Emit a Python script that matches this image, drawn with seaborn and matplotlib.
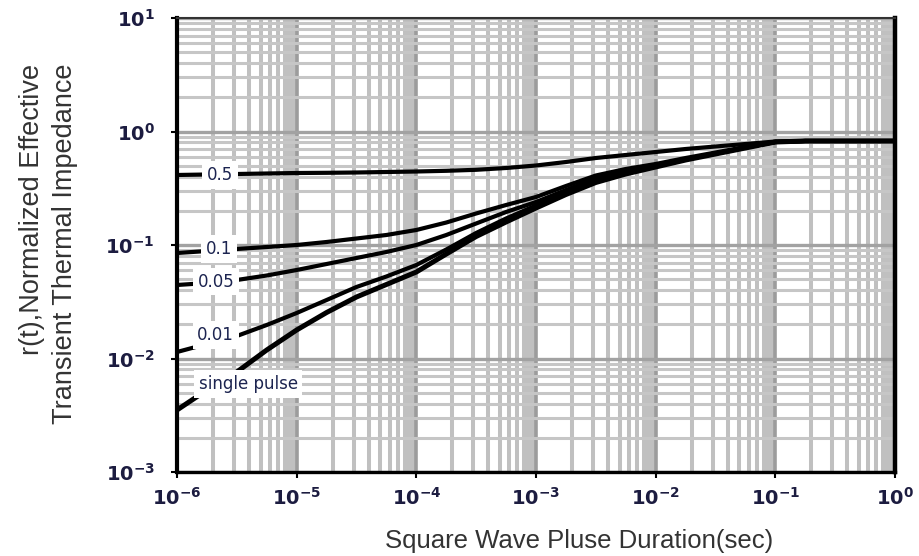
import numpy as np
import pandas as pd
import matplotlib
matplotlib.use("Agg")
import matplotlib.pyplot as plt
import seaborn as sns
from matplotlib.ticker import LogLocator, NullFormatter

# ---------------- data ----------------
pulse_duration = [1e-6, 1.78e-6, 3.16e-6, 5.62e-6,
                  1e-5, 1.78e-5, 3.16e-5, 5.62e-5,
                  1e-4, 1.78e-4, 3.16e-4, 5.62e-4,
                  1e-3, 1.78e-3, 3.16e-3, 5.62e-3,
                  1e-2, 1.78e-2, 3.16e-2, 5.62e-2,
                  1e-1, 1.78e-1, 3.16e-1, 5.62e-1, 1.0]

r_d05 = [0.4138, 0.4180, 0.4223, 0.4266, 0.4309, 0.4326, 0.4353, 0.4397,
         0.4442, 0.4505, 0.4598, 0.4769, 0.5017, 0.5386, 0.5841, 0.6208,
         0.6597, 0.7012, 0.7376, 0.7760, 0.8164, 0.8247, 0.8247, 0.8247, 0.8247]
r_d01 = [0.0850, 0.0885, 0.0922, 0.0960, 0.1000, 0.1063, 0.1141, 0.1225,
         0.1356, 0.1578, 0.1895, 0.2251, 0.2648, 0.3310, 0.4096, 0.4673,
         0.5172, 0.5841, 0.6531, 0.7302, 0.8081, 0.8247, 0.8247, 0.8247, 0.8247]
r_d005 = [0.04442, 0.04626, 0.04916, 0.05386, 0.06022, 0.06801, 0.07682, 0.08676,
          0.1000, 0.1225, 0.1547, 0.1953, 0.2392, 0.3052, 0.3854, 0.4487,
          0.5017, 0.5666, 0.6400, 0.7228, 0.8081, 0.8247, 0.8247, 0.8247, 0.8247]
r_d001 = [0.01141, 0.01342, 0.01578, 0.01973, 0.02517, 0.03277, 0.04265, 0.05278,
          0.06665, 0.09127, 0.1276, 0.1712, 0.2229, 0.2901, 0.3701, 0.4309,
          0.4916, 0.5666, 0.6400, 0.7228, 0.8081, 0.8247, 0.8247, 0.8247, 0.8247]
r_single = [0.003518, 0.005278, 0.007604, 0.01188, 0.01783, 0.02543, 0.03482, 0.04487,
            0.05782, 0.08331, 0.1188, 0.1595, 0.2118, 0.2786, 0.3554, 0.4223,
            0.4867, 0.5609, 0.6335, 0.7155, 0.8081, 0.8247, 0.8247, 0.8247, 0.8247]

series_names = ["0.5", "0.1", "0.05", "0.01", "single pulse"]
series_values = [r_d05, r_d01, r_d005, r_d001, r_single]

x_ticks = [1e-6, 1e-5, 1e-4, 1e-3, 1e-2, 1e-1, 1e0]
x_tick_labels = [r"$\mathbf{10^{-6}}$", r"$\mathbf{10^{-5}}$", r"$\mathbf{10^{-4}}$",
                 r"$\mathbf{10^{-3}}$", r"$\mathbf{10^{-2}}$", r"$\mathbf{10^{-1}}$",
                 r"$\mathbf{10^{0}}$"]
y_ticks = [1e-3, 1e-2, 1e-1, 1e0, 1e1]
y_tick_labels = [r"$\mathbf{10^{-3}}$", r"$\mathbf{10^{-2}}$", r"$\mathbf{10^{-1}}$",
                 r"$\mathbf{10^{0}}$", r"$\mathbf{10^{1}}$"]

x_label = "Square Wave Pluse Duration(sec)"
y_label = "r(t),Normalized Effective\nTransient Thermal Impedance"

# ---------------- styling ----------------
sns.set_theme(style="white")
plt.rcParams["font.family"] = ["Liberation Sans", "DejaVu Sans"]
plt.rcParams["mathtext.fontset"] = "dejavusans"

df = pd.concat(
    [pd.DataFrame({"t": pulse_duration, "r": vals, "duty": name})
     for name, vals in zip(series_names, series_values)],
    ignore_index=True,
)

fig = plt.figure(figsize=(9.2, 5.56), dpi=100)
ax = fig.add_axes([177 / 920, 84 / 556, 718 / 920, 454 / 556])
ax.set_xscale("log")
ax.set_yscale("log")

line_widths = {"0.5": 3.0, "0.1": 3.0, "0.05": 3.0, "0.01": 3.0, "single pulse": 3.6}
for name in series_names:
    sns.lineplot(data=df[df["duty"] == name], x="t", y="r", color="black",
                 linewidth=line_widths[name], ax=ax, legend=False, zorder=5,
                 sort=False)

ax.set_xlim(1e-6, 1e0)
ax.set_ylim(1e-3, 1e1)

# grid
ax.set_axisbelow(True)
ax.xaxis.set_minor_locator(LogLocator(base=10, subs=np.arange(2, 10), numticks=30))
ax.yaxis.set_minor_locator(LogLocator(base=10, subs=np.arange(2, 10), numticks=30))
ax.xaxis.set_minor_formatter(NullFormatter())
ax.yaxis.set_minor_formatter(NullFormatter())
ax.grid(which="minor", axis="x", color="#c0c0c0", linewidth=2.9)
ax.grid(which="minor", axis="y", color="#c6c6c6", linewidth=2.2)
ax.grid(which="major", axis="x", color="#9c9c9c", linewidth=2.6)
ax.grid(which="major", axis="y", color="#a2a2a2", linewidth=2.4)
for k in range(-6, 1):
    ax.axvspan(0.78 * 10.0 ** k, 10.0 ** k, color="#c0c0c0", lw=0, zorder=0)

# ticks
ax.set_xticks(x_ticks)
ax.set_xticklabels(x_tick_labels)
ax.set_yticks(y_ticks)
ax.set_yticklabels(y_tick_labels)
ax.tick_params(which="major", axis="both", direction="out", length=4, width=1.5,
               color="black", labelsize=14, labelcolor="#1c1c40")
ax.tick_params(which="major", axis="x", pad=7, bottom=True)
ax.tick_params(which="major", axis="y", pad=12, left=True)
ax.tick_params(which="minor", length=0)

# spines
for side, lw, col in [("left", 3.0, "black"), ("right", 3.2, "black"),
                      ("bottom", 2.4, "black"), ("top", 1.5, "#333333")]:
    ax.spines[side].set_visible(True)
    ax.spines[side].set_linewidth(lw)
    ax.spines[side].set_color(col)
    ax.spines[side].set_zorder(6)

# axis labels
ax.set_xlabel(x_label, fontsize=18.5, color="#333333")
ax.xaxis.label.set_va("center")
ax.xaxis.set_label_coords(0.56, -0.152)
ax.set_ylabel(y_label, fontsize=19.5, color="#333333", multialignment="right",
              linespacing=1.32)
ax.yaxis.label.set_va("center")
ax.yaxis.set_label_coords(-0.179, 0.503)

# curve labels (axes-fraction positions)
label_pos = {"0.5": (0.060, 0.654), "0.1": (0.0585, 0.491), "0.05": (0.054, 0.419),
             "0.01": (0.054, 0.302), "single pulse": (0.099, 0.194)}
for name in series_names:
    xf, yf = label_pos[name]
    ax.text(xf, yf, name, transform=ax.transAxes, ha="center", va="center",
            fontsize=12, family="DejaVu Sans", color="#1c2450", zorder=7,
            bbox=dict(boxstyle="square,pad=0.28", facecolor="white", edgecolor="none"))

fig.savefig("out.png", dpi=100)
